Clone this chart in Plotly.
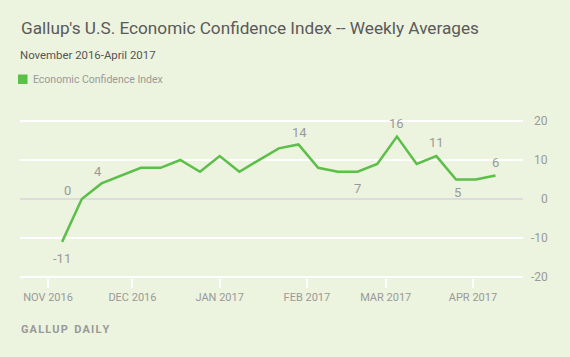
import plotly.graph_objects as go

# ---- data ----
week_dates = ["2016-11-06", "2016-11-13", "2016-11-20", "2016-11-27", "2016-12-04",
              "2016-12-11", "2016-12-18", "2016-12-25", "2017-01-01", "2017-01-08",
              "2017-01-15", "2017-01-22", "2017-01-29", "2017-02-05", "2017-02-12",
              "2017-02-19", "2017-02-26", "2017-03-05", "2017-03-12", "2017-03-19",
              "2017-03-26", "2017-04-02", "2017-04-09"]
eci_values = [-11, 0, 4, 6, 8, 8, 10, 7, 11, 7, 10, 13, 14, 8, 7, 7, 9, 16, 9, 11, 5, 5, 6]
labeled_idx = [0, 1, 2, 12, 15, 17, 19, 20, 22]
x_tick_vals = ["2016-11-01", "2016-12-01", "2017-01-01", "2017-02-01", "2017-03-01", "2017-04-01"]
x_tick_text = ["NOV 2016", "DEC 2016", "JAN 2017", "FEB 2017", "MAR 2017", "APR 2017"]
y_tick_vals = [-20, -10, 0, 10, 20]
y_tick_text = ["-20", "-10", "0", "10", "20"]

# ---- styles ----
BG = "#ecf3de"
GREEN = "#5cbf4a"
GREY = "#9a9a9a"
FONT = "Roboto"
# label offsets (xshift, yshift) per labeled index
label_offsets = {0: (0, -17), 1: (-14, 9), 2: (-3, 12), 12: (1, 12), 15: (0, -17),
                 17: (0, 13), 19: (0, 14), 20: (1, -13), 22: (0, 13)}

fig = go.Figure()
fig.add_trace(go.Scatter(x=week_dates, y=eci_values, mode="lines",
                         line=dict(color=GREEN, width=2.5), showlegend=False,
                         hoverinfo="x+y"))

ann = []
for i in labeled_idx:
    xs, ys = label_offsets[i]
    ann.append(dict(x=week_dates[i], y=eci_values[i], xref="x", yref="y",
                    text=str(eci_values[i]), showarrow=False, xshift=xs, yshift=ys,
                    font=dict(family=FONT, size=13, color=GREY)))
for v, t in zip(y_tick_vals, y_tick_text):
    ann.append(dict(x=1, xref="paper", xshift=27, y=v, yref="y", text=t,
                    showarrow=False, xanchor="right", yanchor="middle",
                    font=dict(family=FONT, size=12, color=GREY)))

# titles, legend, footer (paper coords: plot spans px 20..523 x, 120..278 y)
def px_x(px):
    return (px - 20) / 503.0

def px_y(py):
    return (278 - py) / 158.0

ann += [
    dict(x=px_x(19), y=px_y(28), xref="paper", yref="paper", xanchor="left", yanchor="middle",
         text="Gallup's U.S. Economic Confidence Index -- Weekly Averages", showarrow=False,
         font=dict(family=FONT, size=17.2, color="#5a5a5a")),
    dict(x=px_x(18), y=px_y(55), xref="paper", yref="paper", xanchor="left", yanchor="middle",
         text="November 2016-April 2017", showarrow=False,
         font=dict(family=FONT, size=11.4, color="#555555")),
    dict(x=px_x(31), y=px_y(79), xref="paper", yref="paper", xanchor="left", yanchor="middle",
         text="Economic Confidence Index", showarrow=False,
         font=dict(family=FONT, size=10.5, color=GREY)),
    dict(x=px_x(19), y=px_y(329), xref="paper", yref="paper", xanchor="left", yanchor="middle",
         text="<b>G A L L U P&nbsp;&nbsp; D A I L Y</b>".replace(" ", "\u200a"), showarrow=False,
         font=dict(family=FONT, size=11, color=GREY)),
]

shapes = [dict(type="rect", xref="paper", yref="paper",
               x0=px_x(18), x1=px_x(27.5), y0=px_y(84), y1=px_y(74.5),
               fillcolor=GREEN, line=dict(width=0))]

fig.update_layout(
    width=570, height=357,
    margin=dict(l=20, r=47, t=120, b=79, pad=0),
    paper_bgcolor=BG, plot_bgcolor=BG,
    annotations=ann, shapes=shapes,
    xaxis=dict(type="date", range=["2016-10-22T01:00", "2017-04-18T19:00"],
               tickvals=x_tick_vals, ticktext=x_tick_text,
               ticks="outside", ticklen=9, tickwidth=2, tickcolor="white",
               showgrid=False, zeroline=False, showline=False,
               tickfont=dict(family=FONT, size=11, color=GREY)),
    yaxis=dict(range=[-20.26, 20.26], tickmode="array", tickvals=y_tick_vals,
               ticktext=y_tick_text, showticklabels=False,
               showgrid=True, gridcolor="#ffffff", gridwidth=2,
               zeroline=True, zerolinecolor="#dcdcdc", zerolinewidth=2,
               showline=False, fixedrange=True),
    showlegend=False,
)

fig.write_html("out.html", config={"displayModeBar": False},
               post_script="document.body.style.margin='0';document.body.style.padding='0';document.body.style.background='%s';" % BG)
